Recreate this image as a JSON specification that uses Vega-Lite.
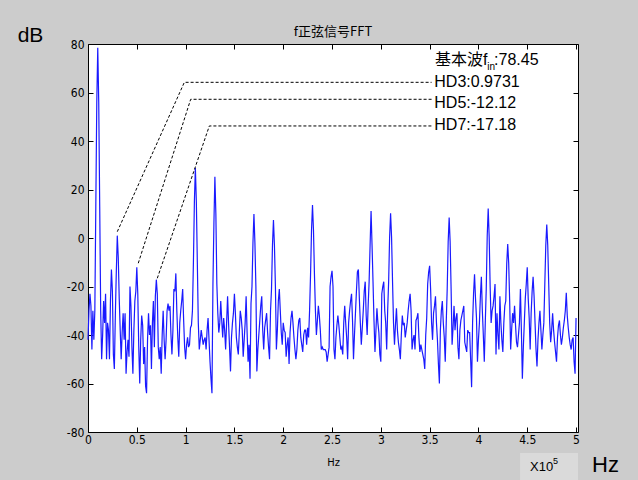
{
"$schema": "https://vega.github.io/schema/vega-lite/v6.json",
"width": 490, "height": 388,
"autosize": {"type": "none"},
"padding": {"left": 88, "top": 44, "right": 60, "bottom": 48},
"background": "#cccccc",
"view": {"fill": "white", "stroke": "#000000", "strokeWidth": 1},
"title": {"text": "f正弦信号FFT", "fontSize": 13, "font": "Noto Sans CJK SC", "fontWeight": "normal", "color": "#000000", "anchor": "middle", "baseline": "bottom", "offset": 6, "dy": 33},
"datasets": {
"fft": [
{"f":0,"d":-42},{"f":0.01,"d":-30},{"f":0.02,"d":-23},{"f":0.03,"d":-28},{"f":0.04,"d":-46},{"f":0.05,"d":-30},{"f":0.06,"d":-42},{"f":0.07,"d":-30},{"f":0.08,"d":13},{"f":0.09,"d":56},
{"f":0.1,"d":78.45},{"f":0.11,"d":56},{"f":0.12,"d":13},{"f":0.13,"d":-30},{"f":0.14,"d":-50},{"f":0.15,"d":-40},{"f":0.16,"d":-26},{"f":0.17,"d":-35},{"f":0.18,"d":-23},{"f":0.19,"d":-50},
{"f":0.2,"d":-35},{"f":0.21,"d":-38},{"f":0.22,"d":-50},{"f":0.23,"d":-26},{"f":0.24,"d":-13},{"f":0.25,"d":-22},{"f":0.26,"d":-48},{"f":0.27,"d":-54},{"f":0.28,"d":-32},{"f":0.29,"d":-14},
{"f":0.3,"d":0.97},{"f":0.31,"d":-8},{"f":0.32,"d":-25},{"f":0.33,"d":-38},{"f":0.34,"d":-50},{"f":0.35,"d":-39},{"f":0.36,"d":-31},{"f":0.37,"d":-42},{"f":0.38,"d":-31},{"f":0.39,"d":-56},
{"f":0.4,"d":-47},{"f":0.41,"d":-42},{"f":0.42,"d":-49},{"f":0.43,"d":-20},{"f":0.44,"d":-28},{"f":0.45,"d":-45},{"f":0.46,"d":-56},{"f":0.47,"d":-38},{"f":0.48,"d":-26},{"f":0.49,"d":-22},
{"f":0.5,"d":-12.12},{"f":0.51,"d":-23},{"f":0.52,"d":-45},{"f":0.53,"d":-60},{"f":0.54,"d":-42},{"f":0.55,"d":-32},{"f":0.56,"d":-36},{"f":0.57,"d":-52},{"f":0.58,"d":-45},{"f":0.59,"d":-61},
{"f":0.6,"d":-64},{"f":0.61,"d":-42},{"f":0.62,"d":-31},{"f":0.63,"d":-40},{"f":0.64,"d":-36},{"f":0.65,"d":-54},{"f":0.66,"d":-35},{"f":0.67,"d":-26},{"f":0.68,"d":-45},{"f":0.69,"d":-24},
{"f":0.7,"d":-17.18},{"f":0.71,"d":-23},{"f":0.72,"d":-45},{"f":0.73,"d":-50},{"f":0.74,"d":-45},{"f":0.75,"d":-56},{"f":0.76,"d":-40},{"f":0.77,"d":-30},{"f":0.78,"d":-42},{"f":0.79,"d":-50},
{"f":0.8,"d":-42},{"f":0.81,"d":-30},{"f":0.82,"d":-27},{"f":0.83,"d":-30},{"f":0.84,"d":-28},{"f":0.85,"d":-40},{"f":0.86,"d":-48},{"f":0.87,"d":-38},{"f":0.88,"d":-21},{"f":0.89,"d":-22},
{"f":0.9,"d":-14.6},{"f":0.91,"d":-30},{"f":0.92,"d":-41},{"f":0.93,"d":-49},{"f":0.94,"d":-35},{"f":0.95,"d":-30},{"f":0.96,"d":-26},{"f":0.97,"d":-21},{"f":0.98,"d":-34},{"f":0.99,"d":-45},
{"f":1,"d":-50},{"f":1.01,"d":-44},{"f":1.02,"d":-41},{"f":1.03,"d":-45},{"f":1.04,"d":-44},{"f":1.05,"d":-37},{"f":1.06,"d":-36},{"f":1.07,"d":-30},{"f":1.08,"d":-10},{"f":1.09,"d":15},
{"f":1.1,"d":28.9},{"f":1.11,"d":15},{"f":1.12,"d":-10},{"f":1.13,"d":-35},{"f":1.14,"d":-46},{"f":1.15,"d":-42},{"f":1.16,"d":-38},{"f":1.17,"d":-41},{"f":1.18,"d":-44},{"f":1.19,"d":-42},
{"f":1.2,"d":-41},{"f":1.21,"d":-46},{"f":1.22,"d":-38},{"f":1.23,"d":-33},{"f":1.24,"d":-42},{"f":1.25,"d":-51},{"f":1.26,"d":-58},{"f":1.27,"d":-64},{"f":1.28,"d":-19},{"f":1.29,"d":6},
{"f":1.3,"d":25.3},{"f":1.31,"d":10},{"f":1.32,"d":-19},{"f":1.33,"d":-31},{"f":1.34,"d":-39},{"f":1.35,"d":-35},{"f":1.36,"d":-26},{"f":1.37,"d":-34},{"f":1.38,"d":-41},{"f":1.39,"d":-33},
{"f":1.4,"d":-38},{"f":1.41,"d":-46},{"f":1.42,"d":-35},{"f":1.43,"d":-24},{"f":1.44,"d":-35},{"f":1.45,"d":-45},{"f":1.46,"d":-55},{"f":1.47,"d":-41},{"f":1.48,"d":-35},{"f":1.49,"d":-31},
{"f":1.5,"d":-23},{"f":1.51,"d":-31},{"f":1.52,"d":-41},{"f":1.53,"d":-45},{"f":1.54,"d":-48},{"f":1.55,"d":-39},{"f":1.56,"d":-30},{"f":1.57,"d":-33},{"f":1.58,"d":-38},{"f":1.59,"d":-49},
{"f":1.6,"d":-42},{"f":1.61,"d":-35},{"f":1.62,"d":-24},{"f":1.63,"d":-39},{"f":1.64,"d":-51},{"f":1.65,"d":-44},{"f":1.66,"d":-58},{"f":1.67,"d":-27},{"f":1.68,"d":-20},{"f":1.69,"d":-2},
{"f":1.7,"d":9.9},{"f":1.71,"d":-2},{"f":1.72,"d":-20},{"f":1.73,"d":-55},{"f":1.74,"d":-46},{"f":1.75,"d":-40},{"f":1.76,"d":-34},{"f":1.77,"d":-28},{"f":1.78,"d":-24},{"f":1.79,"d":-38},
{"f":1.8,"d":-46},{"f":1.81,"d":-37},{"f":1.82,"d":-34},{"f":1.83,"d":-31},{"f":1.84,"d":-39},{"f":1.85,"d":-45},{"f":1.86,"d":-50},{"f":1.87,"d":-30},{"f":1.88,"d":-21},{"f":1.89,"d":-3},
{"f":1.9,"d":7.4},{"f":1.91,"d":-3},{"f":1.92,"d":-20},{"f":1.93,"d":-46},{"f":1.94,"d":-38},{"f":1.95,"d":-26},{"f":1.96,"d":-21},{"f":1.97,"d":-30},{"f":1.98,"d":-39},{"f":1.99,"d":-44},
{"f":2,"d":-35},{"f":2.01,"d":-38},{"f":2.02,"d":-39},{"f":2.03,"d":-49},{"f":2.04,"d":-44},{"f":2.05,"d":-41},{"f":2.06,"d":-52},{"f":2.07,"d":-39},{"f":2.08,"d":-33},{"f":2.09,"d":-30},
{"f":2.1,"d":-35},{"f":2.11,"d":-41},{"f":2.12,"d":-46},{"f":2.13,"d":-50},{"f":2.14,"d":-46},{"f":2.15,"d":-38},{"f":2.16,"d":-34},{"f":2.17,"d":-33},{"f":2.18,"d":-41},{"f":2.19,"d":-44},
{"f":2.2,"d":-47},{"f":2.21,"d":-40},{"f":2.22,"d":-38},{"f":2.23,"d":-38},{"f":2.24,"d":-44},{"f":2.25,"d":-37},{"f":2.26,"d":-41},{"f":2.27,"d":-30},{"f":2.28,"d":-15},{"f":2.29,"d":3.3},
{"f":2.3,"d":13.6},{"f":2.31,"d":3.3},{"f":2.32,"d":-15},{"f":2.33,"d":-30},{"f":2.34,"d":-40},{"f":2.35,"d":-34},{"f":2.36,"d":-28},{"f":2.37,"d":-32},{"f":2.38,"d":-38},{"f":2.39,"d":-46},
{"f":2.4,"d":-45},{"f":2.41,"d":-46},{"f":2.42,"d":-46},{"f":2.43,"d":-46},{"f":2.44,"d":-47},{"f":2.45,"d":-51},{"f":2.46,"d":-48},{"f":2.47,"d":-45},{"f":2.48,"d":-20},{"f":2.49,"d":-16},
{"f":2.5,"d":-13.5},{"f":2.51,"d":-20},{"f":2.52,"d":-46},{"f":2.53,"d":-50},{"f":2.54,"d":-41},{"f":2.55,"d":-36},{"f":2.56,"d":-32},{"f":2.57,"d":-36},{"f":2.58,"d":-41},{"f":2.59,"d":-46},
{"f":2.6,"d":-45},{"f":2.61,"d":-48},{"f":2.62,"d":-35},{"f":2.63,"d":-28},{"f":2.64,"d":-35},{"f":2.65,"d":-41},{"f":2.66,"d":-50},{"f":2.67,"d":-35},{"f":2.68,"d":-30},{"f":2.69,"d":-26},
{"f":2.7,"d":-23},{"f":2.71,"d":-34},{"f":2.72,"d":-50},{"f":2.73,"d":-40},{"f":2.74,"d":-31},{"f":2.75,"d":-22},{"f":2.76,"d":-14},{"f":2.77,"d":-13},{"f":2.78,"d":-25},{"f":2.79,"d":-35},
{"f":2.8,"d":-44},{"f":2.81,"d":-37},{"f":2.82,"d":-30},{"f":2.83,"d":-22},{"f":2.84,"d":-18},{"f":2.85,"d":-32},{"f":2.86,"d":-40},{"f":2.87,"d":-28},{"f":2.88,"d":-18},{"f":2.89,"d":-3},
{"f":2.9,"d":11.1},{"f":2.91,"d":-3},{"f":2.92,"d":-18},{"f":2.93,"d":-34},{"f":2.94,"d":-47},{"f":2.95,"d":-38},{"f":2.96,"d":-29},{"f":2.97,"d":-35},{"f":2.98,"d":-39},{"f":2.99,"d":-48},
{"f":3,"d":-51},{"f":3.01,"d":-23},{"f":3.02,"d":-20},{"f":3.03,"d":-18},{"f":3.04,"d":-30},{"f":3.05,"d":-35},{"f":3.06,"d":-46},{"f":3.07,"d":-30},{"f":3.08,"d":-18},{"f":3.09,"d":0.3},
{"f":3.1,"d":10.2},{"f":3.11,"d":0.3},{"f":3.12,"d":-18},{"f":3.13,"d":-35},{"f":3.14,"d":-44},{"f":3.15,"d":-36},{"f":3.16,"d":-29},{"f":3.17,"d":-38},{"f":3.18,"d":-43},{"f":3.19,"d":-46},
{"f":3.2,"d":-50},{"f":3.21,"d":-40},{"f":3.22,"d":-32},{"f":3.23,"d":-36},{"f":3.24,"d":-35},{"f":3.25,"d":-41},{"f":3.26,"d":-38},{"f":3.27,"d":-35},{"f":3.28,"d":-30},{"f":3.29,"d":-26},
{"f":3.3,"d":-23},{"f":3.31,"d":-30},{"f":3.32,"d":-46},{"f":3.33,"d":-42},{"f":3.34,"d":-40},{"f":3.35,"d":-46},{"f":3.36,"d":-34},{"f":3.37,"d":-33},{"f":3.38,"d":-31},{"f":3.39,"d":-41},
{"f":3.4,"d":-47},{"f":3.41,"d":-44},{"f":3.42,"d":-46},{"f":3.43,"d":-48},{"f":3.44,"d":-50},{"f":3.45,"d":-54},{"f":3.46,"d":-40},{"f":3.47,"d":-33},{"f":3.48,"d":-19},{"f":3.49,"d":-14},
{"f":3.5,"d":-11.5},{"f":3.51,"d":-21},{"f":3.52,"d":-35},{"f":3.53,"d":-42},{"f":3.54,"d":-31},{"f":3.55,"d":-28},{"f":3.56,"d":-24},{"f":3.57,"d":-35},{"f":3.58,"d":-42},{"f":3.59,"d":-52},
{"f":3.6,"d":-60},{"f":3.61,"d":-38},{"f":3.62,"d":-30},{"f":3.63,"d":-26},{"f":3.64,"d":-35},{"f":3.65,"d":-41},{"f":3.66,"d":-51},{"f":3.67,"d":-35},{"f":3.68,"d":-21},{"f":3.69,"d":-1.5},
{"f":3.7,"d":8.4},{"f":3.71,"d":-1.5},{"f":3.72,"d":-21},{"f":3.73,"d":-44},{"f":3.74,"d":-37},{"f":3.75,"d":-28},{"f":3.76,"d":-38},{"f":3.77,"d":-33},{"f":3.78,"d":-31},{"f":3.79,"d":-45},
{"f":3.8,"d":-50},{"f":3.81,"d":-38},{"f":3.82,"d":-34},{"f":3.83,"d":-32},{"f":3.84,"d":-30},{"f":3.85,"d":-28},{"f":3.86,"d":-43},{"f":3.87,"d":-45},{"f":3.88,"d":-47},{"f":3.89,"d":-38},
{"f":3.9,"d":-39},{"f":3.91,"d":-39},{"f":3.92,"d":-50},{"f":3.93,"d":-61.5},{"f":3.94,"d":-35},{"f":3.95,"d":-23},{"f":3.96,"d":-15},{"f":3.97,"d":-25},{"f":3.98,"d":-33},{"f":3.99,"d":-51},
{"f":4,"d":-42},{"f":4.01,"d":-35},{"f":4.02,"d":-24},{"f":4.03,"d":-16},{"f":4.04,"d":-30},{"f":4.05,"d":-40},{"f":4.06,"d":-51},{"f":4.07,"d":-35},{"f":4.08,"d":-21},{"f":4.09,"d":0.8},
{"f":4.1,"d":12.2},{"f":4.11,"d":0.5},{"f":4.12,"d":-20},{"f":4.13,"d":-35},{"f":4.14,"d":-30},{"f":4.15,"d":-28},{"f":4.16,"d":-24},{"f":4.17,"d":-19},{"f":4.18,"d":-48},{"f":4.19,"d":-31},
{"f":4.2,"d":-40},{"f":4.21,"d":-46},{"f":4.22,"d":-24},{"f":4.23,"d":-35},{"f":4.24,"d":-42},{"f":4.25,"d":-47},{"f":4.26,"d":-35},{"f":4.27,"d":-28},{"f":4.28,"d":-26},{"f":4.29,"d":-10.4},
{"f":4.3,"d":-2.5},{"f":4.31,"d":-10.4},{"f":4.32,"d":-26},{"f":4.33,"d":-46},{"f":4.34,"d":-38},{"f":4.35,"d":-31},{"f":4.36,"d":-35},{"f":4.37,"d":-28},{"f":4.38,"d":-36},{"f":4.39,"d":-43},
{"f":4.4,"d":-45},{"f":4.41,"d":-40},{"f":4.42,"d":-35},{"f":4.43,"d":-21},{"f":4.44,"d":-38},{"f":4.45,"d":-58},{"f":4.46,"d":-45},{"f":4.47,"d":-35},{"f":4.48,"d":-25},{"f":4.49,"d":-19},
{"f":4.5,"d":-12.1},{"f":4.51,"d":-25},{"f":4.52,"d":-33},{"f":4.53,"d":-46},{"f":4.54,"d":-31},{"f":4.55,"d":-22},{"f":4.56,"d":-16},{"f":4.57,"d":-24},{"f":4.58,"d":-35},{"f":4.59,"d":-46},
{"f":4.6,"d":-53},{"f":4.61,"d":-42},{"f":4.62,"d":-35},{"f":4.63,"d":-30},{"f":4.64,"d":-38},{"f":4.65,"d":-46},{"f":4.66,"d":-40},{"f":4.67,"d":-35},{"f":4.68,"d":-19},{"f":4.69,"d":-3},
{"f":4.7,"d":5.6},{"f":4.71,"d":-3},{"f":4.72,"d":-19},{"f":4.73,"d":-35},{"f":4.74,"d":-43},{"f":4.75,"d":-38},{"f":4.76,"d":-31},{"f":4.77,"d":-38},{"f":4.78,"d":-43},{"f":4.79,"d":-47},
{"f":4.8,"d":-51},{"f":4.81,"d":-41},{"f":4.82,"d":-36},{"f":4.83,"d":-34},{"f":4.84,"d":-40},{"f":4.85,"d":-44},{"f":4.86,"d":-41},{"f":4.87,"d":-37},{"f":4.88,"d":-34},{"f":4.89,"d":-30},
{"f":4.9,"d":-22.6},{"f":4.91,"d":-32},{"f":4.92,"d":-37},{"f":4.93,"d":-41},{"f":4.94,"d":-44},{"f":4.95,"d":-46},{"f":4.96,"d":-42},{"f":4.97,"d":-41},{"f":4.98,"d":-51},{"f":4.99,"d":-56},
{"f":5,"d":-33}
],
"ann": [
{"g":"HD3","o":0,"f":0.3,"d":2.6},{"g":"HD3","o":1,"f":0.987,"d":64.2},{"g":"HD3","o":2,"f":3.52,"d":64.2},
{"g":"HD5","o":0,"f":0.515,"d":-10.4},{"g":"HD5","o":1,"f":1.052,"d":57.2},{"g":"HD5","o":2,"f":3.52,"d":57.2},
{"g":"HD7","o":0,"f":0.71,"d":-16.6},{"g":"HD7","o":1,"f":1.243,"d":46.2},{"g":"HD7","o":2,"f":3.52,"d":46.2}
],
"hd": [
{"t":"HD3:0.9731","f":3.548,"d":64.5},
{"t":"HD5:-12.12","f":3.548,"d":55.5},
{"t":"HD7:-17.18","f":3.548,"d":46.6}
],
"fund": [
{"t":"基本波f","f":3.555,"d":73.4},
{"t":":78.45","f":4.16,"d":73.4}
],
"sub": [{"t":"in","f":4.09,"d":70.5}],
"xm": [{"t":"X10","f":4.529,"d":-94.4}],
"xe": [{"t":"5","f":4.764,"d":-92}],
"box": [{"f":4.426,"f2":5.02,"d":-88.7,"d2":-99.8}]
},
"layer": [
{
"data": {"name": "box"},
"mark": {"type": "rect", "fill": "#dadada", "clip": false},
"encoding": {
"x": {"field": "f", "type": "quantitative", "scale": {"domain": [0, 5.02], "nice": false, "zero": false}, "axis": null},
"x2": {"field": "f2"},
"y": {"field": "d", "type": "quantitative", "scale": {"domain": [-80, 80], "nice": false, "zero": false}, "axis": null},
"y2": {"field": "d2"}
}
},
{
"data": {"name": "fft"},
"mark": {"type": "line", "color": "#1a1aff", "strokeWidth": 1.2, "interpolate": "linear"},
"encoding": {
"x": {"field": "f", "type": "quantitative", "scale": {"domain": [0, 5.02], "nice": false, "zero": false},
"axis": {"orient": "bottom", "values": [0,0.5,1,1.5,2,2.5,3,3.5,4,4.5,5], "format": "~g", "domain": false, "grid": false, "tickSize": -5, "tickColor": "#000000", "labelFont": "DejaVu Sans Condensed, Liberation Sans", "labelFontSize": 12, "labelColor": "#000000", "labelPadding": 7, "labelFlush": false, "labelOverlap": false, "title": "Hz", "titleFont": "DejaVu Sans Condensed, Liberation Sans", "titleFontSize": 11, "titleFontWeight": "normal", "titleColor": "#000000", "titleY": 30, "titleBaseline": "middle"}},
"y": {"field": "d", "type": "quantitative", "scale": {"domain": [-80, 80], "nice": false, "zero": false},
"axis": {"orient": "left", "values": [-80,-60,-40,-20,0,20,40,60,80], "labelExpr": "'' + datum.value", "domain": false, "grid": false, "tickSize": -5, "tickColor": "#000000", "labelFont": "DejaVu Sans Condensed, Liberation Sans", "labelFontSize": 12, "labelColor": "#000000", "labelPadding": 9, "labelFlush": false, "labelOverlap": false, "title": "dB", "titleAngle": 0, "titleX": -58, "titleY": -8.5, "titleAlign": "center", "titleBaseline": "middle", "titleFont": "Liberation Sans", "titleFontSize": 21, "titleFontWeight": "normal", "titleColor": "#000000"}}
}
},
{
"data": {"name": "ann"},
"mark": {"type": "line", "color": "#000000", "strokeWidth": 1, "strokeDash": [3, 2]},
"encoding": {
"x": {"field": "f", "type": "quantitative", "scale": {"domain": [0, 5.02], "nice": false, "zero": false},
"axis": {"orient": "top", "values": [0,0.5,1,1.5,2,2.5,3,3.5,4,4.5,5], "labels": false, "domain": false, "grid": false, "tickSize": -5, "tickColor": "#000000", "title": "Hz", "titleX": 517, "titleY": 420, "titleAlign": "center", "titleBaseline": "middle", "titleFont": "Liberation Sans", "titleFontSize": 22, "titleFontWeight": "normal", "titleColor": "#000000"}},
"y": {"field": "d", "type": "quantitative", "scale": {"domain": [-80, 80], "nice": false, "zero": false},
"axis": {"orient": "right", "values": [-80,-60,-40,-20,0,20,40,60,80], "labels": false, "domain": false, "grid": false, "tickSize": -5, "tickColor": "#000000", "title": null}},
"detail": {"field": "g"},
"order": {"field": "o"}
}
},
{
"data": {"name": "hd"},
"mark": {"type": "text", "align": "left", "baseline": "middle", "font": "Liberation Sans", "fontSize": 16, "color": "#000000"},
"encoding": {
"x": {"field": "f", "type": "quantitative", "scale": {"domain": [0, 5.02], "nice": false, "zero": false}, "axis": null},
"y": {"field": "d", "type": "quantitative", "scale": {"domain": [-80, 80], "nice": false, "zero": false}, "axis": null},
"text": {"field": "t"}
}
},
{
"data": {"name": "fund"},
"mark": {"type": "text", "align": "left", "baseline": "middle", "font": "Liberation Sans, Noto Sans CJK SC", "fontSize": 16, "color": "#000000"},
"encoding": {
"x": {"field": "f", "type": "quantitative", "scale": {"domain": [0, 5.02], "nice": false, "zero": false}, "axis": null},
"y": {"field": "d", "type": "quantitative", "scale": {"domain": [-80, 80], "nice": false, "zero": false}, "axis": null},
"text": {"field": "t"}
}
},
{
"data": {"name": "sub"},
"mark": {"type": "text", "align": "left", "baseline": "middle", "font": "Liberation Sans", "fontSize": 10, "color": "#000000"},
"encoding": {
"x": {"field": "f", "type": "quantitative", "scale": {"domain": [0, 5.02], "nice": false, "zero": false}, "axis": null},
"y": {"field": "d", "type": "quantitative", "scale": {"domain": [-80, 80], "nice": false, "zero": false}, "axis": null},
"text": {"field": "t"}
}
},
{
"data": {"name": "xm"},
"mark": {"type": "text", "align": "left", "baseline": "middle", "font": "Liberation Sans", "fontSize": 13, "color": "#000000"},
"encoding": {
"x": {"field": "f", "type": "quantitative", "scale": {"domain": [0, 5.02], "nice": false, "zero": false}, "axis": null},
"y": {"field": "d", "type": "quantitative", "scale": {"domain": [-80, 80], "nice": false, "zero": false}, "axis": null},
"text": {"field": "t"}
}
},
{
"data": {"name": "xe"},
"mark": {"type": "text", "align": "left", "baseline": "middle", "font": "Liberation Sans", "fontSize": 9, "color": "#000000"},
"encoding": {
"x": {"field": "f", "type": "quantitative", "scale": {"domain": [0, 5.02], "nice": false, "zero": false}, "axis": null},
"y": {"field": "d", "type": "quantitative", "scale": {"domain": [-80, 80], "nice": false, "zero": false}, "axis": null},
"text": {"field": "t"}
}
}
],
"resolve": {"axis": {"x": "independent", "y": "independent"}}
}
